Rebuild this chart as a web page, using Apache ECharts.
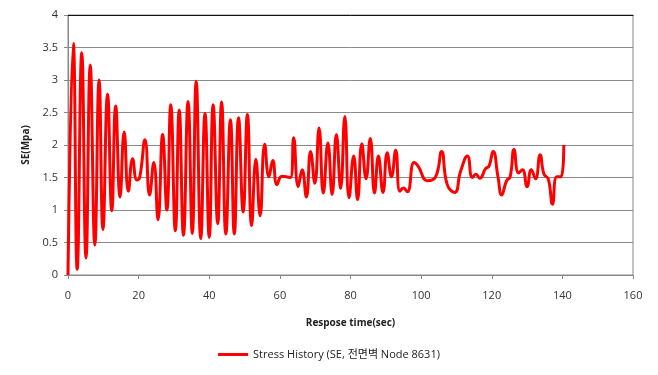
<!DOCTYPE html>
<html lang="ko">
<head>
    <meta charset="UTF-8">
    <title>Stress History</title>
    <script src="https://cdn.jsdelivr.net/npm/echarts@6/dist/echarts.min.js"></script>
    <style>
        html, body { margin: 0; padding: 0; background: #fff; }
        #chart { width: 658px; height: 375px; }
    </style>
</head>
<body>
    <div id="chart"></div>
<script>
    // 시간 (sec)
    var times = [0, 1.5, 2.6, 3.9, 5.1, 6.3, 7.6, 8.8, 9.9, 11.2, 12.4, 13.5, 14.75, 15.9, 17.1, 18.3, 19.5, 20.3,
        21.8, 23.1, 24.3, 25.5, 26.8, 28.0, 29.1, 30.4, 31.5, 32.7, 34.0, 35.2, 36.3, 37.6, 38.8, 40.0,
        41.1, 42.4, 43.5, 44.7, 46.0, 47.1, 48.3, 49.6, 50.8, 52.0, 53.2, 54.4, 55.7, 56.9, 58.0, 59.2,
        60.6, 63.0, 63.9, 65.2, 66.3, 67.5, 68.7, 69.9, 71.1, 72.3, 73.6, 74.8, 76.0, 77.2, 78.4, 79.6,
        80.9, 82.0, 83.2, 84.4, 85.6, 86.8, 87.9, 89.2, 90.4, 91.6, 92.8, 94.0, 95.0, 96.1, 98.0, 99.1,
        101.8, 104.1, 105.8, 107.4, 109.5, 111.2, 113.1, 114.5, 115.5, 116.6, 118.3, 119.2, 120.4, 121.8,
        122.8, 124.2, 125.2, 126.3, 127.6, 128.7, 130.0, 131.2, 132.4, 133.7, 134.8, 136.0, 137.2, 138.4,
        139.6, 140.4];
    // SE (Mpa)
    var stress = [0, 3.56, 0.09, 3.42, 0.26, 3.23, 0.46, 3.0, 0.7, 2.78, 0.99, 2.6, 1.2, 2.2, 1.29, 1.79, 1.46, 1.5,
        2.08, 1.23, 1.73, 0.85, 2.16, 1.0, 2.62, 0.68, 2.54, 0.61, 2.67, 0.64, 2.98, 0.56, 2.49, 0.58,
        2.62, 0.79, 2.66, 0.63, 2.39, 0.63, 2.42, 0.97, 2.47, 0.76, 1.78, 0.91, 2.01, 1.51, 1.76, 1.39,
        1.52, 1.5, 2.11, 1.36, 1.62, 1.2, 1.9, 1.41, 2.26, 1.26, 2.03, 1.24, 2.16, 1.33, 2.44, 1.19,
        1.83, 1.16, 2.02, 1.48, 2.1, 1.26, 1.83, 1.27, 1.88, 1.51, 1.92, 1.29, 1.34, 1.28, 1.73, 1.68,
        1.45, 1.51, 1.9, 1.39, 1.27, 1.6, 1.83, 1.5, 1.55, 1.49, 1.64, 1.67, 1.9, 1.5,
        1.23, 1.45, 1.51, 1.93, 1.57, 1.62, 1.36, 1.62, 1.48, 1.85, 1.55, 1.48, 1.09, 1.51,
        1.51, 2.0];
    var xTicks = [0, 20, 40, 60, 80, 100, 120, 140, 160];
    var yTicks = [0, 0.5, 1, 1.5, 2, 2.5, 3, 3.5, 4];

    var points = times.map(function (t, i) { return [t, stress[i]]; });

    var chart = echarts.init(document.getElementById('chart'));
    var fontFam = '"Open Sans", "Noto Sans CJK KR", sans-serif';

    chart.setOption({
        animation: false,
        grid: { left: 68, right: 25, top: 15, bottom: 100, show: true, borderColor: '#888', borderWidth: 1 },
        legend: {
            bottom: 10,
            left: 'center',
            itemWidth: 30,
            itemHeight: 3,
            icon: 'rect',
            textStyle: { fontFamily: fontFam, fontSize: 11, color: '#222' },
            data: ['Stress History (SE, 전면벽 Node 8631)']
        },
        xAxis: [{
            type: 'value',
            min: xTicks[0],
            max: xTicks[xTicks.length - 1],
            interval: 20,
            name: 'Respose time(sec)',
            nameLocation: 'middle',
            nameGap: 43,
            nameTextStyle: { fontFamily: fontFam, fontSize: 10, fontWeight: 'bold', color: '#222' },
            axisLine: { lineStyle: { color: '#888' } },
            axisTick: { show: true, length: 4, lineStyle: { color: '#888' } },
            axisLabel: { fontFamily: fontFam, fontSize: 11, color: '#333', margin: 15 },
            splitLine: { show: false }
        }, {
            type: 'value',
            position: 'top',
            min: 0, max: 160,
            axisLine: { show: true, lineStyle: { color: '#111' } },
            axisTick: { show: false },
            axisLabel: { show: false },
            splitLine: { show: false }
        }],
        yAxis: {
            type: 'value',
            min: yTicks[0],
            max: yTicks[yTicks.length - 1],
            interval: 0.5,
            name: 'SE(Mpa)',
            nameLocation: 'middle',
            nameGap: 36,
            nameTextStyle: { fontFamily: fontFam, fontSize: 10, fontWeight: 'bold', color: '#222' },
            axisLine: { show: true, lineStyle: { color: '#888' } },
            axisTick: { show: true, length: 4, lineStyle: { color: '#888' } },
            axisLabel: { fontFamily: fontFam, fontSize: 11, color: '#333', margin: 10 },
            splitLine: { lineStyle: { color: '#8a8a8a', width: 1 } }
        },
        series: [{
            name: 'Stress History (SE, 전면벽 Node 8631)',
            type: 'line',
            data: points,
            smooth: 0.5,
            showSymbol: false,
            lineStyle: { color: '#ff0000', width: 3 },
            itemStyle: { color: '#ff0000' }
        }]
    });
</script>
</body>
</html>
